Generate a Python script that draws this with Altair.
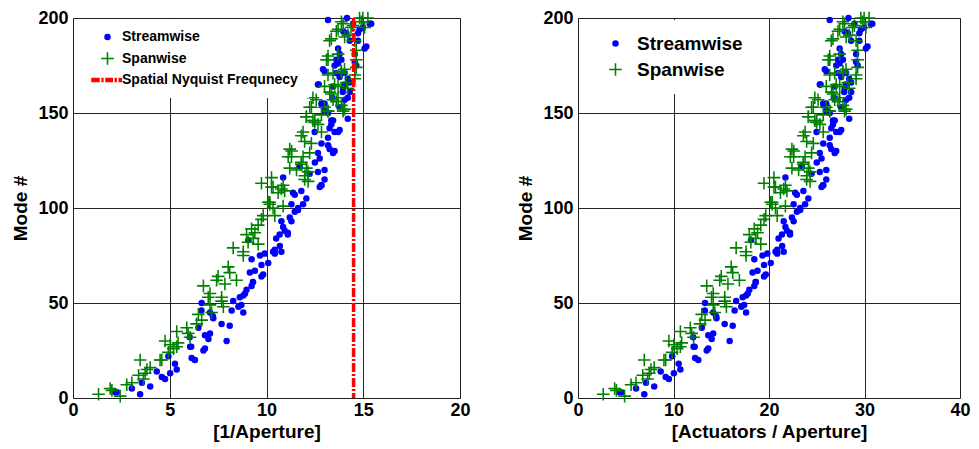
import altair as alt
import pandas as pd

# ---------------- data ----------------
streamwise_x = [2.27, 3.47, 3.04, 3.99, 3.56, 4.33, 4.59, 4.76, 5.02, 5.36, 5.27, 4.93, 6.13, 6.30,
                6.05, 6.82, 6.74, 7.00, 7.08, 6.48, 6.82, 7.25, 7.94, 7.68, 8.10, 6.65, 7.08, 8.20,
                8.28, 8.70, 8.80, 8.62, 8.80, 8.97, 9.30, 9.23, 9.74, 9.83, 9.40, 9.14, 9.74, 10.09,
                9.23, 9.66, 9.91, 10.34, 10.43, 10.77, 10.50, 10.68, 10.94, 11.10, 10.86, 11.29,
                10.77, 11.20, 11.46, 11.63, 11.29, 11.46, 10.86, 12.06, 12.75, 12.84, 13.00, 12.66,
                12.23, 12.50, 12.66, 12.75, 12.49, 13.18, 13.26, 13.44, 12.84, 13.18, 13.70, 13.52,
                13.26, 13.35, 13.35, 13.18, 14.20, 12.84, 13.00, 12.66, 12.92, 14.20, 14.03, 13.94,
                13.44, 13.61, 13.61, 13.70, 13.70, 13.78, 14.20, 14.30, 14.13, 13.96, 13.18, 14.16,
                14.73, 14.73, 14.81, 15.07, 15.41, 14.98, 14.56, 14.64, 14.03, 14.30,
                2.18, 6.64, 7.23, 8.55, 8.89, 6.03, 6.11, 9.31, 9.06, 10.69, 11.10, 10.43,
                11.37, 11.80, 11.63, 11.89, 12.83, 13.00, 13.52, 13.78, 13.44, 13.78, 11.72,
                14.47, 15.33, 15.16, 13.87, 13.52, 13.00, 13.78, 13.96, 12.70, 14.56, 14.04,
                12.87, 13.40, 14.30, 13.00]
streamwise_y = [3, 2, 5, 6, 8, 14, 11, 10, 13, 15, 18, 22, 21, 20,
                27, 26, 25, 31, 34, 37, 33, 42, 30, 39, 38, 50, 45, 46,
                51, 49, 45, 53, 54, 57, 61, 59, 64, 65, 67, 66, 70, 71,
                73, 75, 76, 77, 78, 77, 84, 86, 88, 86, 90, 93,
                93, 95, 98, 99, 102, 107, 116, 105, 111, 112, 115, 119,
                118, 124, 129, 126, 140, 137, 131, 129, 134, 133, 140, 140,
                142, 144, 146, 150, 147, 155, 155, 165, 173, 158, 165, 161,
                164, 171, 178, 176, 184, 181, 168, 188, 192, 193, 199, 200,
                188, 192, 194, 184, 197, 195, 181, 175, 171, 166,
                3, 46, 43, 48, 55, 32, 27, 61, 83, 80, 87, 76,
                108, 109, 100, 102, 112, 120, 130, 141, 146, 153, 122,
                197, 197, 185, 178, 175, 172, 169, 163, 165, 177, 157,
                154, 158, 161, 151]

spanwise_x = [1.32, 1.92, 2.01, 2.44, 2.78, 3.04, 3.47, 3.39, 3.73, 3.82, 3.99, 3.64, 4.50, 4.59,
              4.76, 4.93, 5.02, 5.19, 5.36, 5.43, 5.36, 5.88, 5.95, 6.05, 6.39, 6.48, 6.65, 6.74,
              6.99, 7.08, 7.16, 7.08, 7.68, 7.68, 7.77, 7.42, 7.50, 7.85, 8.02, 8.10, 8.45, 8.28,
              8.80, 8.80, 9.05, 8.97, 9.23, 9.40, 9.31, 9.57, 9.74, 9.83, 9.57, 9.74, 10.09, 10.17,
              10.26, 10.34, 10.43, 10.60, 10.77, 10.86, 10.94, 11.20, 11.29, 11.12, 11.20, 11.55,
              11.80, 11.97, 11.89, 12.15, 11.80, 11.97, 12.23, 12.06, 12.40, 12.49, 12.57, 12.23,
              12.84, 13.18, 13.35, 13.00, 13.18, 13.18, 13.18, 13.26, 13.52, 13.44, 13.70, 13.61,
              13.87, 13.96, 13.87, 14.03, 14.13, 14.20, 14.37, 14.56, 14.64, 14.64, 14.64, 14.56,
              14.56, 14.20, 14.90, 15.07, 15.24, 14.81, 13.87,
              10.26, 10.34, 10.86, 11.30, 11.80, 12.06, 11.98, 12.15, 11.89, 12.32, 12.49,
              12.66, 12.84, 12.06, 13.18, 14.04, 10.17, 13.35, 13.70, 13.96, 14.47, 14.98,
              14.04, 13.10, 13.70, 13.44, 13.87, 13.27, 13.70, 12.40, 12.32, 13.00, 13.61, 13.96]
spanwise_y = [2, 5, 4, 1, 7, 8, 20, 12, 13, 15, 16, 10, 20, 20,
              30, 24, 28, 26, 27, 29, 35, 37, 34, 32, 39, 44, 41, 59,
              53, 49, 45, 55, 51, 53, 48, 62, 64, 60, 69, 66, 62, 79,
              75, 77, 82, 86, 89, 87, 84, 91, 94, 96, 81, 113, 103, 102,
              111, 100, 96, 108, 110, 101, 109, 131, 127, 127, 121, 120,
              124, 115, 127, 119, 138, 135, 129, 148, 146, 145, 157, 153,
              149, 151, 160, 164, 170, 178, 180, 188, 165, 157, 158, 193,
              154, 151, 171, 173, 166, 191, 195, 188, 183, 178, 174, 170,
              168, 163, 198, 195, 200, 200, 198,
              116, 111, 112, 130, 123, 121, 117, 114, 140, 134, 146,
              144, 140, 148, 151, 152, 103, 189, 194, 197, 196, 200,
              190, 178, 181, 171, 172, 161, 164, 158, 153, 153, 156, 152]

nyquist_x = 14.5
actuators_per_aperture = 2   # right panel: [Actuators / Aperture] = 2 x [1/Aperture]

series = ["Streamwise", "Spanwise", "Spatial Nyquist Frequnecy"]
series_colors = ["#0000ff", "#008000", "#ff0000"]

# ---------------- tables ----------------
df = pd.concat([
    pd.DataFrame({"x": streamwise_x, "mode": streamwise_y, "series": "Streamwise"}),
    pd.DataFrame({"x": spanwise_x, "mode": spanwise_y, "series": "Spanwise"}),
], ignore_index=True)
df["xr"] = df["x"] * actuators_per_aperture
nyq_df = pd.DataFrame({"x": [nyquist_x]})

# ---------------- styling ----------------
FONT = "Liberation Sans"
PLUS = "M-1.95,-0.24H1.95V0.24H-1.95Z M-0.24,-1.95H0.24V1.95H-0.24Z"
DASH = ("M-5.0,-0.7H-2.4V0.7H-5.0Z M-1.9,-0.7H-1.2V0.7H-1.9Z M-0.7,-0.7H1.7V0.7H-0.7Z "
        "M2.2,-0.7H2.9V0.7H2.2Z M3.4,-0.7H4.5V0.7H3.4Z")
shapes = ["circle", PLUS, DASH]
PT_SIZE = 42


def axis(values, title, title_pad, label_pad):
    return alt.Axis(values=values, title=title, grid=True, gridColor="black", gridWidth=1,
                    gridOpacity=0.85, ticks=False, domain=False, labelFont=FONT,
                    labelFontWeight="bold", labelFontSize=18, labelColor="black",
                    labelFlush=False, labelPadding=label_pad, titleFont=FONT,
                    titleFontWeight="bold", titleFontSize=19, titleColor="black",
                    titlePadding=title_pad)


def legend(font_size, x, y, pad, row_pad, sym_off, lab_off):
    return alt.Legend(title=None, orient="none", legendX=x, legendY=y, fillColor="white",
                      padding=pad, rowPadding=row_pad, labelFont=FONT, labelFontWeight="bold",
                      labelFontSize=font_size, labelColor="black", symbolSize=PT_SIZE,
                      symbolStrokeWidth=0, symbolOffset=sym_off, labelOffset=lab_off,
                      labelLimit=400)


def panel(xfield, xmax, xvalues, xtitle, dom, leg, width, with_rule):
    color_scale = alt.Scale(domain=dom, range=series_colors[:len(dom)])
    shape_scale = alt.Scale(domain=dom, range=shapes[:len(dom)])
    pts = alt.Chart(df).mark_point(filled=True, size=PT_SIZE, opacity=1, strokeWidth=0).encode(
        x=alt.X(f"{xfield}:Q", scale=alt.Scale(domain=[0, xmax], nice=False),
                axis=axis(xvalues, xtitle, 3, 3)),
        y=alt.Y("mode:Q", scale=alt.Scale(domain=[0, 200], nice=False),
                axis=axis([0, 50, 100, 150, 200], "Mode #", 7, 5)),
        color=alt.Color("series:N", scale=color_scale, legend=leg),
        shape=alt.Shape("series:N", scale=shape_scale, legend=leg),
    )
    layers = [pts]
    if with_rule:
        rule = alt.Chart(nyq_df).mark_rule(color="#ff0000", strokeWidth=3.5,
                                           strokeDash=[9, 2, 2, 2]).encode(x="x:Q")
        layers.append(rule)
    return alt.layer(*layers).properties(width=width, height=380)


left = panel("x", 20, [0, 5, 10, 15, 20], "[1/Aperture]", series,
             legend(14, 2, 1, 11, 7.5, 14.5, 7.5), 387, True)
right = panel("xr", 40, [0, 10, 20, 30, 40], "[Actuators / Aperture]", series[:2],
              legend(19, 3, 2, 14, 6, 11, 12), 382, False)

chart = alt.hconcat(left, right, spacing=45).resolve_scale(
    x="independent", color="independent", shape="independent"
).resolve_legend(color="independent", shape="independent").properties(
    padding={"left": 3, "top": 0, "right": 0, "bottom": 0}
).configure_view(stroke="black", strokeWidth=1.5).configure(background="white")

chart.save("out.html", embed_options={"renderer": "svg", "actions": False})
